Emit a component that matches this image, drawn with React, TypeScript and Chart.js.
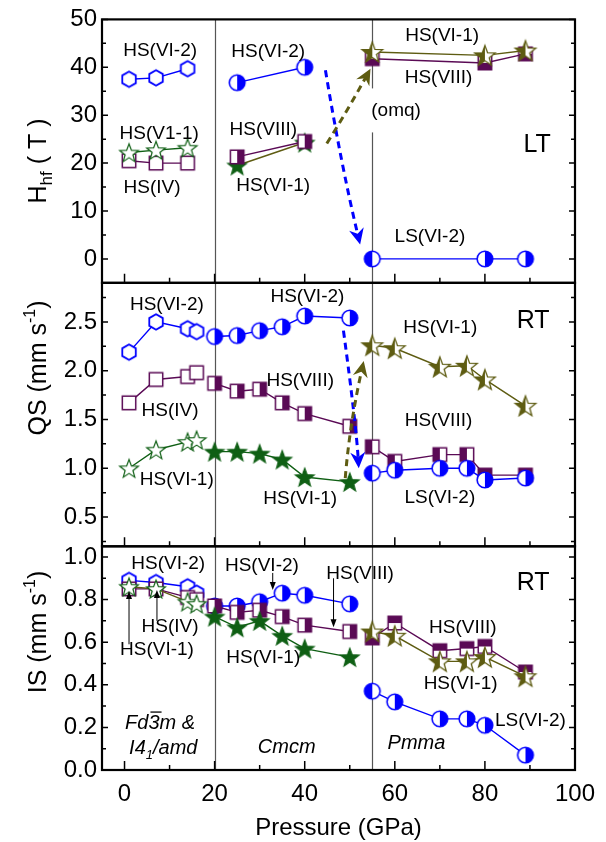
import React, { useEffect, useRef } from 'react';
import { Chart, registerables } from 'chart.js';
Chart.register(...registerables);

const FONT = "'Liberation Sans', Arial, Helvetica, sans-serif";
const BLUE = '#0000ff';
const PURPLE = '#5a0a55';
const GREEN = '#0f5f14';
const OLIVE = '#5e5c12';

// ---- pressures (GPa) ----
const P_LT_LOW = [1, 7, 14];
const P_LOW = [1, 7, 14, 16];
const P_LT_CMCM = [25, 40];
const P_CMCM = [20, 25, 30, 35, 40, 50];
const P_LT_PMMA = [55, 80, 89];
const P_PMMA = [55, 60, 70, 76, 80, 89];

// ---- Hhf (T), LT ----
const H_VI2_LOW = [37.5, 37.8, 39.7];
const H_VI1_LOW = [22.2, 22.7, 23.2];
const H_IV_LOW = [20.5, 20.0, 20.0];
const H_VI2_CMCM = [36.8, 40.0];
const H_VIII_CMCM = [21.3, 24.5];
const H_VI1_CMCM = [19.5, 24.3];
const H_VI1_PMMA = [43.2, 42.5, 43.5];
const H_VIII_PMMA = [41.8, 40.9, 42.8];
const H_LS_PMMA = [0, 0, 0];

// ---- QS (mm/s), RT ----
const QS_VI2_LOW = [2.19, 2.5, 2.43, 2.4];
const QS_IV_LOW = [1.67, 1.91, 1.94, 1.98];
const QS_VI1_LOW = [1.0, 1.19, 1.27, 1.29];
const QS_VI2_CMCM = [2.35, 2.36, 2.41, 2.45, 2.56, 2.54];
const QS_VIII_CMCM = [1.87, 1.79, 1.81, 1.67, 1.56, 1.43];
const QS_VI1_CMCM = [1.17, 1.17, 1.15, 1.09, 0.91, 0.86];
const QS_VI1_PMMA = [2.26, 2.23, 2.04, 2.05, 1.91, 1.64];
const QS_VIII_PMMA = [1.22, 1.07, 1.14, 1.14, 0.93, 0.93];
const QS_LS_PMMA = [0.95, 0.98, 1.0, 1.0, 0.88, 0.9];

// ---- IS (mm/s), RT ----
const IS_VI2_LOW = [0.89, 0.88, 0.86, 0.83];
const IS_IV_LOW = [0.85, 0.85, 0.81, 0.8];
const IS_VI1_LOW = [0.86, 0.85, 0.79, 0.78];
const IS_VI2_CMCM = [0.77, 0.77, 0.79, 0.83, 0.82, 0.78];
const IS_VIII_CMCM = [0.77, 0.74, 0.75, 0.72, 0.68, 0.65];
const IS_VI1_CMCM = [0.72, 0.67, 0.7, 0.63, 0.57, 0.53];
const IS_VIII_PMMA = [0.62, 0.69, 0.56, 0.57, 0.58, 0.46];
const IS_VI1_PMMA = [0.65, 0.63, 0.51, 0.51, 0.53, 0.44];
const IS_LS_PMMA = [0.37, 0.32, 0.24, 0.24, 0.21, 0.07];

// ---- ticks ----
const X_TICKS = [0, 20, 40, 60, 80, 100];
const X_MINOR = [10, 30, 50, 70, 90];
const H_TICKS = [0, 10, 20, 30, 40, 50];
const H_MINOR = [-5, 5, 15, 25, 35, 45];
const QS_TICKS = [0.5, 1.0, 1.5, 2.0, 2.5];
const QS_MINOR = [0.25, 0.75, 1.25, 1.75, 2.25, 2.75];
const IS_TICKS = [0.0, 0.2, 0.4, 0.6, 0.8, 1.0];
const IS_MINOR = [0.1, 0.3, 0.5, 0.7, 0.9];
const PHASE_BOUNDS = [20, 55];

// ---- annotation texts (data coordinates) ----
const TEXTS: [string, number, number, string, number?][] = [
  ['HS(VI-2)', 7.9, 43.4, 'yH'],
  ['HS(VI-2)', 31.9, 43.2, 'yH'],
  ['HS(V1-1)', 7.7, 26.2, 'yH'],
  ['HS(IV)', 6.1, 14.8, 'yH'],
  ['HS(VIII)', 30.8, 27.0, 'yH'],
  ['HS(VI-1)', 33.0, 15.2, 'yH'],
  ['HS(VI-1)', 70.5, 46.6, 'yH'],
  ['HS(VIII)', 69.7, 37.8, 'yH'],
  ['LS(VI-2)', 67.8, 4.7, 'yH'],
  ['LT', 91.6, 23.8, 'yH', 25],
  ['HS(VI-2)', 9.4, 2.68, 'yQ'],
  ['HS(VI-2)', 40.6, 2.76, 'yQ'],
  ['HS(IV)', 10.1, 1.59, 'yQ'],
  ['HS(VI-1)', 11.6, 0.88, 'yQ'],
  ['HS(VIII)', 39.0, 1.9, 'yQ'],
  ['HS(VI-1)', 39.0, 0.69, 'yQ'],
  ['HS(VI-1)', 70.1, 2.44, 'yQ'],
  ['HS(VIII)', 69.7, 1.49, 'yQ'],
  ['LS(VI-2)', 70.0, 0.7, 'yQ'],
  ['RT', 90.7, 2.51, 'yQ', 25],
  ['HS(VI-2)', 9.7, 0.969, 'yI'],
  ['HS(VI-2)', 30.5, 0.961, 'yI'],
  ['HS(VIII)', 52.3, 0.922, 'yI'],
  ['HS(IV)', 10.1, 0.674, 'yI'],
  ['HS(VI-1)', 7.2, 0.566, 'yI'],
  ['HS(VI-1)', 30.8, 0.527, 'yI'],
  ['HS(VIII)', 75.1, 0.667, 'yI'],
  ['HS(VI-1)', 74.6, 0.403, 'yI'],
  ['LS(VI-2)', 90.1, 0.233, 'yI'],
  ['RT', 90.7, 0.876, 'yI', 25],
];

// small pointer arrows in IS panel: x, from, to
const POINTERS: [number, number, number][] = [
  [1, 0.59, 0.84],
  [7.2, 0.7, 0.845],
  [32.9, 0.925, 0.845],
  [46.4, 0.9, 0.67],
];

// dashed transition arrows: [x0,y0, cx,cy, x1,y1, axis, color]
const TRANSITIONS: [number, number, number, number, number, number, string, string][] = [
  [44.6, 39.4, 48.0, 20.0, 52.3, 3.0, 'yH', BLUE],
  [44.9, 24.1, 49.5, 31.0, 54.6, 39.7, 'yH', OLIVE],
  [48.6, 2.41, 51.4, 1.45, 52.0, 1.0, 'yQ', BLUE],
  [49.0, 0.9, 49.95, 1.44, 53.1, 2.1, 'yQ', OLIVE],
];

// ---------- marker images ----------
type PathFn = (c: CanvasRenderingContext2D, m: number) => void;
const hexPath = (r: number): PathFn => (c, m) => {
  c.beginPath();
  for (let k = 0; k < 6; k++) {
    const a = -Math.PI / 2 + (k * Math.PI) / 3;
    const px = m + r * Math.cos(a), py = m + r * Math.sin(a);
    if (k) c.lineTo(px, py); else c.moveTo(px, py);
  }
  c.closePath();
};
const circPath = (r: number): PathFn => (c, m) => {
  c.beginPath();
  c.arc(m, m, r, 0, Math.PI * 2);
  c.closePath();
};
const sqPath = (h: number): PathFn => (c, m) => {
  c.beginPath();
  c.rect(m - h, m - h, 2 * h, 2 * h);
  c.closePath();
};
const starPath = (R: number, r: number): PathFn => (c, m) => {
  c.beginPath();
  for (let k = 0; k < 10; k++) {
    const a = -Math.PI / 2 + (k * Math.PI) / 5;
    const rr = k % 2 ? r : R;
    const px = m + rr * Math.cos(a), py = m + 1 + rr * Math.sin(a);
    if (k) c.lineTo(px, py); else c.moveTo(px, py);
  }
  c.closePath();
};

function marker(size: number, path: PathFn, col: string, half: string, lw: number): HTMLCanvasElement {
  const cv = document.createElement('canvas');
  cv.width = size;
  cv.height = size;
  const c = cv.getContext('2d')!;
  const m = size / 2;
  path(c, m);
  c.fillStyle = '#fff';
  c.fill();
  if (half !== 'N') {
    c.save();
    path(c, m);
    c.clip();
    c.fillStyle = col;
    if (half === 'F') c.fillRect(0, 0, size, size);
    else if (half === 'L') c.fillRect(0, 0, m, size);
    else if (half === 'R') c.fillRect(m, 0, m, size);
    else if (half === 'T') c.fillRect(0, 0, size, m);
    else if (half === 'B') c.fillRect(0, m, size, m);
    c.restore();
  }
  path(c, m);
  c.strokeStyle = col;
  c.lineWidth = lw;
  c.lineJoin = 'miter';
  c.stroke();
  return cv;
}

function pts(xs: number[], ys: number[]) {
  return xs.map((x, i) => ({ x, y: ys[i] }));
}

function buildDatasets() {
  const hex = marker(20, hexPath(7.8), BLUE, 'N', 1.8);
  const cirL = marker(20, circPath(7.8), BLUE, 'L', 1.6);
  const cirR = marker(20, circPath(7.8), BLUE, 'R', 1.6);
  const sqO = marker(18, sqPath(6.7), PURPLE, 'N', 1.5);
  const sqR = marker(18, sqPath(6.7), PURPLE, 'R', 1.5);
  const sqL = marker(18, sqPath(6.7), PURPLE, 'L', 1.5);
  const sqB = marker(18, sqPath(6.7), PURPLE, 'B', 1.5);
  const sqT = marker(18, sqPath(6.7), PURPLE, 'T', 1.5);
  const stO = marker(24, starPath(9.8, 4.1), GREEN, 'N', 1.2);
  const stF = marker(24, starPath(9.8, 4.1), GREEN, 'F', 1.2);
  const stH = marker(26, starPath(10.8, 4.5), OLIVE, 'L', 1.3);

  const ds = (data: any, y: string, color: string, style: any) => ({
    data,
    yAxisID: y,
    borderColor: color,
    backgroundColor: color,
    borderWidth: 1.4,
    pointStyle: style,
    pointRadius: 8,
    tension: 0,
    fill: false,
    showLine: true,
  });

  return [
    // Hhf
    ds(pts(P_LT_LOW, H_VI2_LOW), 'yH', BLUE, hex),
    ds(pts(P_LT_LOW, H_VI1_LOW), 'yH', GREEN, stO),
    ds(pts(P_LT_LOW, H_IV_LOW), 'yH', PURPLE, sqO),
    ds(pts(P_LT_CMCM, H_VI2_CMCM), 'yH', BLUE, cirR),
    ds(pts(P_LT_CMCM, H_VIII_CMCM), 'yH', PURPLE, sqR),
    ds(pts(P_LT_CMCM, H_VI1_CMCM), 'yH', OLIVE, stF),
    ds(pts(P_LT_PMMA, H_VI1_PMMA), 'yH', OLIVE, stH),
    ds(pts(P_LT_PMMA, H_VIII_PMMA), 'yH', PURPLE, sqB),
    ds(pts(P_LT_PMMA, H_LS_PMMA), 'yH', BLUE, [cirL, cirR, cirR]),
    // QS
    ds(pts(P_LOW, QS_VI2_LOW), 'yQ', BLUE, hex),
    ds(pts(P_LOW, QS_IV_LOW), 'yQ', PURPLE, sqO),
    ds(pts(P_LOW, QS_VI1_LOW), 'yQ', GREEN, stO),
    ds(pts(P_CMCM, QS_VI2_CMCM), 'yQ', BLUE, cirR),
    ds(pts(P_CMCM, QS_VIII_CMCM), 'yQ', PURPLE, sqR),
    ds(pts(P_CMCM, QS_VI1_CMCM), 'yQ', GREEN, stF),
    ds(pts(P_PMMA, QS_VI1_PMMA), 'yQ', OLIVE, stH),
    ds(pts(P_PMMA, QS_LS_PMMA), 'yQ', BLUE, [cirL, cirR, cirR, cirR, cirR, cirR]),
    ds(pts(P_PMMA, QS_VIII_PMMA), 'yQ', PURPLE, [sqL, sqL, sqL, sqL, sqT, sqT]),
    // IS
    ds(pts(P_LOW, IS_VI1_LOW), 'yI', OLIVE, stO),
    ds(pts(P_LOW, IS_IV_LOW), 'yI', PURPLE, sqO),
    ds(pts(P_LOW, IS_VI2_LOW), 'yI', BLUE, hex),
    ds(pts(P_CMCM, IS_VI1_CMCM), 'yI', GREEN, stF),
    ds(pts(P_CMCM, IS_VIII_CMCM), 'yI', PURPLE, sqR),
    ds(pts(P_CMCM, IS_VI2_CMCM), 'yI', BLUE, cirR),
    ds(pts(P_PMMA, IS_VI1_PMMA), 'yI', OLIVE, stH),
    ds(pts(P_PMMA, IS_VIII_PMMA), 'yI', PURPLE, [sqB, sqT, sqT, sqT, sqT, sqT]),
    ds(pts(P_PMMA, IS_LS_PMMA), 'yI', BLUE, [cirL, cirR, cirR, cirR, cirR, cirR]),
  ];
}

function arrowHead(ctx: CanvasRenderingContext2D, x: number, y: number, ang: number, len: number, hw: number, notch: number) {
  ctx.save();
  ctx.translate(x, y);
  ctx.rotate(ang);
  ctx.beginPath();
  ctx.moveTo(0, 0);
  ctx.lineTo(-len, -hw);
  ctx.lineTo(-len + notch, 0);
  ctx.lineTo(-len, hw);
  ctx.closePath();
  ctx.fill();
  ctx.restore();
}

function rotatedTitle(ctx: CanvasRenderingContext2D, cx: number, cy: number, parts: [string, number, number][]) {
  ctx.save();
  ctx.translate(cx, cy);
  ctx.rotate(-Math.PI / 2);
  let total = 0;
  parts.forEach(([t, s]) => {
    ctx.font = `${s}px ${FONT}`;
    total += ctx.measureText(t).width;
  });
  let x = -total / 2;
  ctx.textAlign = 'left';
  ctx.textBaseline = 'alphabetic';
  ctx.fillStyle = '#000';
  parts.forEach(([t, s, dy]) => {
    ctx.font = `${s}px ${FONT}`;
    ctx.fillText(t, x, 9 + dy);
    x += ctx.measureText(t).width;
  });
  ctx.restore();
}

const deco = {
  id: 'deco',
  beforeDatasetsDraw(chart: any) {
    const { ctx, chartArea } = chart;
    const xs = chart.scales.x;
    ctx.save();
    ctx.strokeStyle = '#555';
    ctx.lineWidth = 1.2;
    PHASE_BOUNDS.forEach((p) => {
      const px = Math.round(xs.getPixelForValue(p)) + 0.5;
      ctx.beginPath();
      ctx.moveTo(px, chartArea.top);
      ctx.lineTo(px, chartArea.bottom);
      ctx.stroke();
    });
    ctx.restore();
  },
  afterDatasetsDraw(chart: any) {
    const { ctx, chartArea } = chart;
    const xs = chart.scales.x;
    const S: any = chart.scales;
    ctx.save();

    // dashed transition arrows
    TRANSITIONS.forEach(([x0, y0, cx, cy, x1, y1, ax, col]) => {
      const ys = S[ax];
      const p0 = [xs.getPixelForValue(x0), ys.getPixelForValue(y0)];
      const pc = [xs.getPixelForValue(cx), ys.getPixelForValue(cy)];
      const p1 = [xs.getPixelForValue(x1), ys.getPixelForValue(y1)];
      const ang = Math.atan2(p1[1] - pc[1], p1[0] - pc[0]);
      const back = 10;
      const e = [p1[0] - back * Math.cos(ang), p1[1] - back * Math.sin(ang)];
      ctx.strokeStyle = col;
      ctx.fillStyle = col;
      ctx.lineWidth = 3;
      ctx.setLineDash([7, 5]);
      ctx.beginPath();
      ctx.moveTo(p0[0], p0[1]);
      ctx.quadraticCurveTo(pc[0], pc[1], e[0], e[1]);
      ctx.stroke();
      ctx.setLineDash([]);
      arrowHead(ctx, p1[0], p1[1], ang, 16, 7.5, 5);
    });

    // pointer arrows
    ctx.strokeStyle = '#000';
    ctx.fillStyle = '#000';
    ctx.lineWidth = 1;
    POINTERS.forEach(([x, a, b]) => {
      const px = xs.getPixelForValue(x);
      const pa = S.yI.getPixelForValue(a);
      const pb = S.yI.getPixelForValue(b);
      const dir = pb > pa ? 1 : -1;
      ctx.beginPath();
      ctx.moveTo(px, pa);
      ctx.lineTo(px, pb - dir * 6);
      ctx.stroke();
      arrowHead(ctx, px, pb, dir > 0 ? Math.PI / 2 : -Math.PI / 2, 8, 3, 0);
    });

    // text labels
    ctx.textAlign = 'center';
    ctx.textBaseline = 'middle';
    ctx.fillStyle = '#000';
    TEXTS.forEach(([t, x, y, ax, size]) => {
      ctx.font = `${size || 19}px ${FONT}`;
      ctx.fillText(t, xs.getPixelForValue(x), S[ax].getPixelForValue(y));
    });

    // (omq) with white box over phase line
    {
      const px = xs.getPixelForValue(55);
      const py = S.yH.getPixelForValue(31);
      ctx.fillStyle = '#fff';
      ctx.fillRect(px - 3, py - 22, 8, 44);
      ctx.fillStyle = '#000';
      ctx.font = `19px ${FONT}`;
      ctx.textAlign = 'left';
      ctx.fillText('(omq)', px - 1, py);
    }

    // phase names (italic)
    ctx.textAlign = 'left';
    ctx.textBaseline = 'alphabetic';
    const italic = (s: number) => `italic ${s}px ${FONT}`;
    {
      const cx = xs.getPixelForValue(7.9);
      const cy = S.yI.getPixelForValue(0.225) + 7;
      ctx.font = italic(20);
      const w1 = ctx.measureText('Fd').width;
      const w2 = ctx.measureText('3').width;
      const w3 = ctx.measureText('m &').width;
      let x = cx - (w1 + w2 + w3) / 2;
      ctx.fillText('Fd', x, cy);
      ctx.fillText('3', x + w1, cy);
      ctx.fillText('m &', x + w1 + w2, cy);
      ctx.lineWidth = 1.3;
      ctx.strokeStyle = '#000';
      ctx.beginPath();
      ctx.moveTo(x + w1 + 2, cy - 17);
      ctx.lineTo(x + w1 + w2 + 2, cy - 17);
      ctx.stroke();
    }
    {
      const cx = xs.getPixelForValue(8.6);
      const cy = S.yI.getPixelForValue(0.108) + 7;
      ctx.font = italic(20);
      const a = ctx.measureText('I4').width;
      ctx.font = italic(13);
      const b = ctx.measureText('1').width;
      ctx.font = italic(20);
      const c = ctx.measureText('/amd').width;
      const x = cx - (a + b + c) / 2;
      ctx.fillText('I4', x, cy);
      ctx.font = italic(13);
      ctx.fillText('1', x + a, cy + 5);
      ctx.font = italic(20);
      ctx.fillText('/amd', x + a + b, cy);
    }
    ctx.textAlign = 'center';
    ctx.textBaseline = 'middle';
    ctx.font = italic(20);
    ctx.fillText('Cmcm', xs.getPixelForValue(36), S.yI.getPixelForValue(0.108));
    ctx.fillText('Pmma', xs.getPixelForValue(64.8), S.yI.getPixelForValue(0.124));

    // ticks
    ctx.strokeStyle = '#000';
    ctx.lineWidth = 1.5;
    const L = chartArea.left, R = chartArea.right;
    const panels: [any, number[], number[]][] = [
      [S.yH, H_TICKS, H_MINOR],
      [S.yQ, QS_TICKS, QS_MINOR],
      [S.yI, IS_TICKS, IS_MINOR],
    ];
    panels.forEach(([ys, maj, min]) => {
      ctx.beginPath();
      maj.forEach((v: number) => {
        const py = ys.getPixelForValue(v);
        ctx.moveTo(L, py); ctx.lineTo(L + 6, py);
        ctx.moveTo(R, py); ctx.lineTo(R - 6, py);
      });
      min.forEach((v: number) => {
        const py = ys.getPixelForValue(v);
        ctx.moveTo(L, py); ctx.lineTo(L + 4, py);
        ctx.moveTo(R, py); ctx.lineTo(R - 4, py);
      });
      X_TICKS.forEach((v) => {
        const px = xs.getPixelForValue(v);
        ctx.moveTo(px, ys.bottom); ctx.lineTo(px, ys.bottom - 9);
      });
      X_MINOR.forEach((v) => {
        const px = xs.getPixelForValue(v);
        ctx.moveTo(px, ys.bottom); ctx.lineTo(px, ys.bottom - 5);
      });
      ctx.stroke();
    });

    // spines
    ctx.lineWidth = 2.2;
    panels.forEach(([ys]) => {
      ctx.strokeRect(L, ys.top, R - L, ys.bottom - ys.top);
    });

    // axis titles
    ctx.fillStyle = '#000';
    ctx.font = `24px ${FONT}`;
    ctx.textAlign = 'center';
    ctx.textBaseline = 'middle';
    ctx.fillText('Pressure (GPa)', (L + R) / 2, 828);
    rotatedTitle(ctx, 37, 161, [['H', 25, 0], ['hf', 17, 6], [' ( T )', 25, 0]]);
    rotatedTitle(ctx, 37, 368, [['QS (mm s', 25, 0], ['-1', 16, -11], [')', 25, 0]]);
    rotatedTitle(ctx, 37, 632, [['IS (mm s', 25, 0], ['-1', 16, -11], [')', 25, 0]]);

    ctx.restore();
  },
};

function yAxis(min: number, max: number, ticks: number[], weight: number, dec: number) {
  return {
    type: 'linear',
    position: 'left',
    stack: 'panels',
    stackWeight: weight,
    min,
    max,
    grid: { display: false, drawTicks: false },
    border: { display: false },
    ticks: {
      autoSkip: false,
      padding: 5,
      color: '#000',
      font: { family: FONT, size: 24 },
      callback: (v: number) => Number(v).toFixed(dec),
    },
    afterBuildTicks: (s: any) => {
      s.ticks = ticks.map((v) => ({ value: v }));
    },
    afterFit: (s: any) => {
      s.width = 102;
    },
  };
}

export default function App() {
  const ref = useRef<HTMLCanvasElement>(null);
  useEffect(() => {
    const canvas = ref.current!;
    const chart = new Chart(canvas, {
      type: 'line',
      data: { datasets: buildDatasets() as any },
      options: {
        responsive: false,
        animation: false,
        devicePixelRatio: 1,
        events: [],
        layout: { padding: { top: 15, right: 31, left: 0, bottom: 0 } },
        plugins: { legend: { display: false }, tooltip: { enabled: false }, title: { display: false } },
        scales: {
          x: {
            type: 'linear',
            position: 'bottom',
            min: -5,
            max: 100,
            grid: { display: false, drawTicks: false },
            border: { display: false },
            ticks: {
              autoSkip: false,
              maxRotation: 0,
              padding: 10,
              color: '#000',
              font: { family: FONT, size: 24 },
              callback: (v: number) => String(v),
            },
            afterBuildTicks: (s: any) => {
              s.ticks = X_TICKS.map((v) => ({ value: v }));
            },
            afterFit: (s: any) => {
              s.height = 72;
            },
          },
          // stacked panels: the last one in the stack is drawn on top
          yI: yAxis(0, 1.05, IS_TICKS, 225, 1),
          yQ: yAxis(0.2, 2.9, QS_TICKS, 265, 1),
          yH: yAxis(-5, 50, H_TICKS, 265, 0),
        } as any,
      },
      plugins: [deco],
    });
    return () => chart.destroy();
  }, []);
  return (
    <div style={{ position: 'fixed', left: 0, top: 0, width: 606, height: 842, background: '#fff' }}>
      <canvas ref={ref} width={606} height={842} style={{ display: 'block', width: 606, height: 842 }} />
    </div>
  );
}
